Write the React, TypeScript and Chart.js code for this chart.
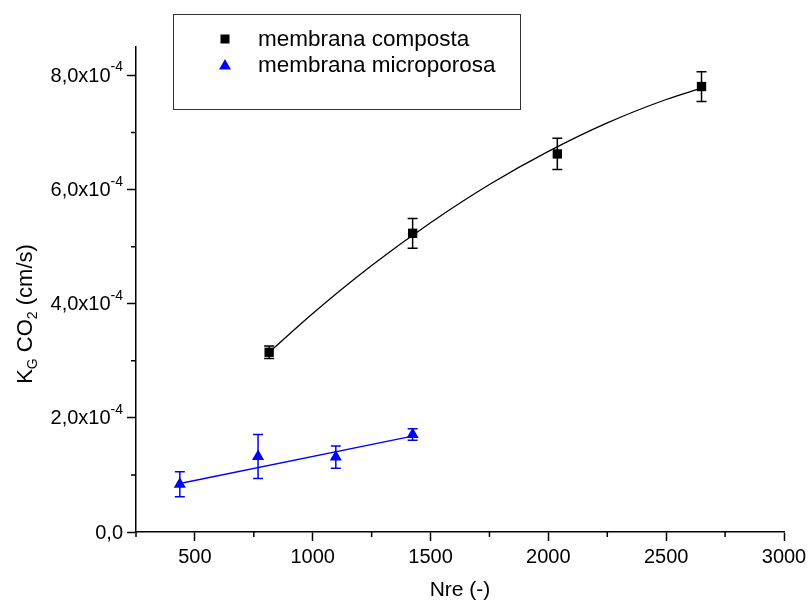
import React, { useEffect, useRef } from "react";
import { Chart, registerables } from "chart.js";

Chart.register(...registerables);

// Data
const nreComposta = [815, 1424, 2038, 2650];
const kgComposta = [3.15e-4, 5.235e-4, 6.626e-4, 7.807e-4];
const errComposta = [0.11e-4, 0.26e-4, 0.275e-4, 0.26e-4];

const nreMicro = [436, 768, 1098, 1424];
const kgMicro = [0.837e-4, 1.323e-4, 1.314e-4, 1.709e-4];
const errMicro = [0.22e-4, 0.386e-4, 0.195e-4, 0.1e-4];

// Fitted curves
const fitCompostaX = [815, 1000, 1250, 1500, 1750, 2000, 2250, 2500, 2650];
const fitCompostaY = [3.15e-4, 3.83e-4, 4.67e-4, 5.42e-4, 6.09e-4, 6.67e-4, 7.17e-4, 7.58e-4, 7.78e-4];
const fitMicroX = [436, 1424];
const fitMicroY = [0.85e-4, 1.68e-4];

// Y tick labels: mantissa and exponent
const yTickValues = [0, 2e-4, 4e-4, 6e-4, 8e-4];
const yTickMantissa = ["0,0", "2,0x10", "4,0x10", "6,0x10", "8,0x10"];
const yTickExponent = ["", "-4", "-4", "-4", "-4"];

const legendLabels = ["membrana composta", "membrana microporosa"];
const xTitle = "Nre (-)";

const FONT = "'Liberation Sans', Arial, sans-serif";
const BLUE = "#0000ff";

const pts = (xs: number[], ys: number[]) => xs.map((x, i) => ({ x, y: ys[i] }));

const errorBarPlugin = {
  id: "errorBars",
  beforeDatasetsDraw(chart: any) {
    const { ctx, scales } = chart;
    const draw = (xs: number[], ys: number[], es: number[], color: string) => {
      ctx.save();
      ctx.strokeStyle = color;
      ctx.lineWidth = 1.5;
      xs.forEach((x, i) => {
        const px = scales.x.getPixelForValue(x);
        const pTop = scales.y.getPixelForValue(ys[i] + es[i]);
        const pBot = scales.y.getPixelForValue(ys[i] - es[i]);
        ctx.beginPath();
        ctx.moveTo(px, pTop);
        ctx.lineTo(px, pBot);
        ctx.moveTo(px - 5, pTop);
        ctx.lineTo(px + 5, pTop);
        ctx.moveTo(px - 5, pBot);
        ctx.lineTo(px + 5, pBot);
        ctx.stroke();
      });
      ctx.restore();
    };
    draw(nreComposta, kgComposta, errComposta, "#000");
    draw(nreMicro, kgMicro, errMicro, BLUE);
  },
};

const decorPlugin = {
  id: "decor",
  afterDraw(chart: any) {
    const { ctx, scales, chartArea } = chart;
    ctx.save();
    // minor ticks
    ctx.strokeStyle = "#000";
    ctx.lineWidth = 1.5;
    ctx.beginPath();
    scales.x.ticks.forEach((t: any) => {
      if (t.value % 500 !== 0) {
        const px = scales.x.getPixelForValue(t.value);
        ctx.moveTo(px, chartArea.bottom);
        ctx.lineTo(px, chartArea.bottom + 5);
      }
    });
    scales.y.ticks.forEach((t: any) => {
      if (Math.round(t.value * 1e4) % 2 !== 0) {
        const py = scales.y.getPixelForValue(t.value);
        ctx.moveTo(chartArea.left, py);
        ctx.lineTo(chartArea.left - 5, py);
      }
    });
    ctx.stroke();

    // y tick labels with superscript exponent
    ctx.fillStyle = "#000";
    ctx.textBaseline = "middle";
    yTickValues.forEach((v, i) => {
      const py = scales.y.getPixelForValue(v);
      let right = chartArea.left - 14;
      if (yTickExponent[i]) {
        ctx.font = `14px ${FONT}`;
        ctx.textAlign = "right";
        ctx.fillText(yTickExponent[i], right + 1, py - 8);
        right -= ctx.measureText(yTickExponent[i]).width;
      }
      ctx.font = `20px ${FONT}`;
      ctx.textAlign = "right";
      ctx.fillText(yTickMantissa[i], right + 1, py + 1);
    });

    // y axis title with subscripts
    ctx.translate(26, 314);
    ctx.rotate(-Math.PI / 2);
    ctx.fillStyle = "#000";
    ctx.textBaseline = "middle";
    const big = `22px ${FONT}`;
    const small = `14px ${FONT}`;
    const parts: [string, string, number][] = [
      ["K", big, 0],
      ["G", small, 7],
      [" CO", big, 0],
      ["2", small, 7],
      [" (cm/s)", big, 0],
    ];
    let total = 0;
    parts.forEach(([t, f]) => {
      ctx.font = f;
      total += ctx.measureText(t).width;
    });
    let cx = -total / 2;
    ctx.textAlign = "left";
    parts.forEach(([t, f, dy]) => {
      ctx.font = f;
      ctx.fillText(t, cx, dy);
      cx += ctx.measureText(t).width;
    });
    ctx.restore();

    // legend
    ctx.save();
    ctx.strokeStyle = "#333";
    ctx.lineWidth = 1;
    ctx.strokeRect(173.5, 14.5, 347, 95);
    ctx.fillStyle = "#000";
    ctx.fillRect(220.5, 34.5, 9, 9);
    ctx.fillStyle = BLUE;
    ctx.beginPath();
    ctx.moveTo(225, 59);
    ctx.lineTo(231, 69.5);
    ctx.lineTo(219, 69.5);
    ctx.closePath();
    ctx.fill();
    ctx.fillStyle = "#000";
    ctx.font = `22.5px ${FONT}`;
    ctx.textAlign = "left";
    ctx.textBaseline = "alphabetic";
    ctx.fillText(legendLabels[0], 258, 46);
    ctx.fillText(legendLabels[1], 258, 72);
    ctx.restore();
  },
};

export default function App() {
  const ref = useRef<HTMLCanvasElement>(null);
  useEffect(() => {
    if (!ref.current) return;
    const chart = new Chart(ref.current, {
      type: "scatter",
      data: {
        datasets: [
          {
            label: "fit composta",
            data: pts(fitCompostaX, fitCompostaY),
            showLine: true,
            borderColor: "#000",
            borderWidth: 1.3,
            pointRadius: 0,
            cubicInterpolationMode: "monotone",
            order: 3,
          } as any,
          {
            label: "fit microporosa",
            data: pts(fitMicroX, fitMicroY),
            showLine: true,
            borderColor: BLUE,
            borderWidth: 1.3,
            pointRadius: 0,
            order: 3,
          } as any,
          {
            label: legendLabels[0],
            data: pts(nreComposta, kgComposta),
            pointStyle: "rect",
            pointRadius: 6.6,
            backgroundColor: "#000",
            borderColor: "#000",
            borderWidth: 0,
            order: 1,
          },
          {
            label: legendLabels[1],
            data: pts(nreMicro, kgMicro),
            pointStyle: "triangle",
            pointRadius: 7,
            backgroundColor: BLUE,
            borderColor: BLUE,
            borderWidth: 0,
            order: 1,
          },
        ],
      },
      options: {
        animation: false,
        responsive: true,
        maintainAspectRatio: false,
        layout: { padding: { top: 47, right: 27, left: 0, bottom: 0 } },
        plugins: { legend: { display: false }, tooltip: { enabled: false } },
        scales: {
          x: {
            type: "linear",
            min: 250,
            max: 3000,
            afterFit: (s: any) => {
              s.height = 71;
            },
            ticks: {
              stepSize: 250,
              autoSkip: false,
              maxRotation: 0,
              padding: 4,
              color: "#000",
              font: { size: 20, family: FONT },
              callback: (v: any) => (Number(v) % 500 === 0 ? String(v) : ""),
            },
            grid: {
              drawOnChartArea: false,
              drawTicks: true,
              tickLength: 9,
              tickWidth: 1.5,
              tickColor: (c: any) => (c.tick && c.tick.value % 500 === 0 ? "#000" : "rgba(0,0,0,0)"),
            },
            border: { display: true, color: "#000", width: 1.5 },
            title: {
              display: true,
              text: xTitle,
              color: "#000",
              font: { size: 21, family: FONT },
              padding: { top: 4, bottom: 0 },
            },
          },
          y: {
            type: "linear",
            min: 0,
            max: 8.5e-4,
            afterFit: (s: any) => {
              s.width = 136;
            },
            ticks: {
              stepSize: 1e-4,
              includeBounds: false,
              autoSkip: false,
              display: false,
            },
            grid: {
              drawOnChartArea: false,
              drawTicks: true,
              tickLength: 9,
              tickWidth: 1.5,
              tickColor: (c: any) =>
                c.tick && Math.round(c.tick.value * 1e4) % 2 === 0 ? "#000" : "rgba(0,0,0,0)",
            },
            border: { display: true, color: "#000", width: 1.5 },
          },
        },
      },
      plugins: [errorBarPlugin, decorPlugin],
    });
    return () => chart.destroy();
  }, []);
  return (
    <div style={{ position: "fixed", left: 0, top: 0, width: 811, height: 603, background: "#fff" }}>
      <canvas ref={ref} />
    </div>
  );
}
